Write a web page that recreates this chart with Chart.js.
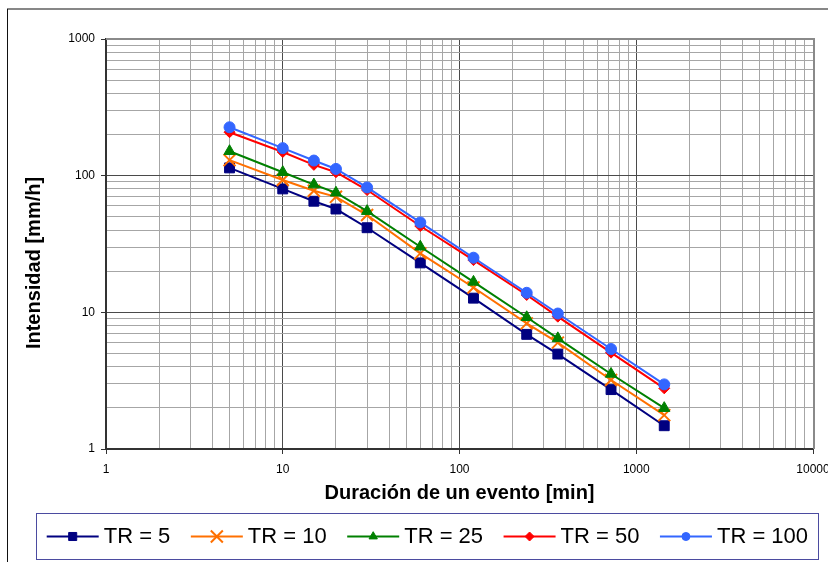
<!DOCTYPE html>
<html><head><meta charset="utf-8">
<script src="https://cdn.jsdelivr.net/npm/chart.js@4.4.1/dist/chart.umd.min.js"></script>
<style>
html,body{margin:0;padding:0;background:#fff;overflow:hidden;width:828px;height:562px;}
#wrap{position:relative;width:828px;height:562px;overflow:hidden;}
canvas{position:absolute;left:0;top:0;}
</style></head><body>
<div id="wrap"><canvas id="c" width="850" height="580" style="width:850px;height:580px"></canvas></div>
<script>
// ---- data ----
const durations = [5, 10, 15, 20, 30, 60, 120, 240, 360, 720, 1440];
const tr5   = [114, 80, 65, 57, 41.6, 23, 12.7, 6.9, 4.95, 2.72, 1.48];
const tr10  = [130, 93, 77.6, 70, 51.5, 27, 15.2, 8.3, 6.0, 3.2, 1.77];
const tr25  = [151, 106, 86, 75, 55, 30.2, 16.7, 9.2, 6.45, 3.54, 1.99];
const tr50  = [208, 149, 120, 106, 78.5, 42.8, 24.1, 13.4, 9.3, 5.07, 2.78];
const tr100 = [226, 159, 129, 112, 82, 45.5, 25.1, 13.9, 9.8, 5.39, 2.97];
const seriesLabels = ['TR = 5', 'TR = 10', 'TR = 25', 'TR = 50', 'TR = 100'];
const xTickLabels = ['1', '10', '100', '1000', '10000'];
const yTickLabels = ['1', '10', '100', '1000'];
const xTitle = 'Duración de un evento [min]';
const yTitle = 'Intensidad [mm/h]';

const FONT = '"Liberation Sans", Arial, Helvetica, sans-serif';
const xDecades = xTickLabels.map(Number);
const yDecades = yTickLabels.map(Number);

function logTicks(min, max) {
  const t = [];
  for (let k = Math.round(Math.log10(min)); k < Math.round(Math.log10(max)); k++) {
    const p = Math.pow(10, k);
    for (let d = 1; d < 10; d++) t.push({ value: d * p, major: d === 1 });
  }
  t.push({ value: max, major: true });
  return t;
}
function isDecade(v) {
  const l = Math.log10(v);
  return Math.abs(l - Math.round(l)) < 1e-9;
}
const pts = vals => durations.map((d, i) => ({ x: d, y: vals[i] }));

const styles = [
  { color: '#000080', pointStyle: 'rect', radius: 7, legendRadius: 5.7, bw: 1 },
  { color: '#ff7000', pointStyle: 'crossRot', radius: 8.5, legendRadius: 8.5, bw: 2 },
  { color: '#008000', pointStyle: 'triangle', radius: 6.5, legendRadius: 4.8, bw: 1 },
  { color: '#ff0000', pointStyle: 'rectRot', radius: 5.5, legendRadius: 4.5, bw: 1 },
  { color: '#3366ff', pointStyle: 'circle', radius: 5.5, legendRadius: 4, bw: 1 }
];
const seriesValues = [tr5, tr10, tr25, tr50, tr100];

const datasets = seriesValues.map((vals, i) => ({
  label: seriesLabels[i],
  data: pts(vals),
  borderColor: styles[i].color,
  backgroundColor: styles[i].color,
  pointBackgroundColor: styles[i].color,
  pointBorderColor: styles[i].color,
  pointBorderWidth: styles[i].bw,
  pointStyle: styles[i].pointStyle,
  pointRadius: styles[i].radius,
  legendRadius: styles[i].legendRadius,
  borderWidth: 2,
  tension: 0,
  fill: false,
  order: seriesValues.length - i
}));

const gridColor = ctx => (ctx.tick && isDecade(ctx.tick.value)) ? '#4a4a4a' : '#a6a6a6';
const tickColor = ctx => (ctx.tick && isDecade(ctx.tick.value)) ? '#333' : 'rgba(0,0,0,0)';

const decor = {
  id: 'decor',
  beforeDraw(chart) {
    const ctx = chart.ctx;
    ctx.save();
    ctx.fillStyle = '#fff';
    ctx.fillRect(0, 0, chart.width, chart.height);
    ctx.strokeStyle = '#111';
    ctx.lineWidth = 1;
    ctx.strokeRect(7.5, 9, 900, 900);
    ctx.restore();
  },
  afterDraw(chart) {
    const ctx = chart.ctx, a = chart.chartArea;
    ctx.save();
    ctx.strokeStyle = '#8a8a8a';
    ctx.lineWidth = 2;
    ctx.beginPath();
    ctx.moveTo(a.left, a.top);
    ctx.lineTo(a.right + 1, a.top);
    ctx.lineTo(a.right + 1, a.bottom);
    ctx.stroke();
    ctx.restore();

    // y axis title
    ctx.save();
    ctx.translate(34, 263);
    ctx.rotate(-Math.PI / 2);
    ctx.font = 'bold 20px ' + FONT;
    ctx.fillStyle = '#000';
    ctx.textAlign = 'center';
    ctx.textBaseline = 'middle';
    ctx.fillText(yTitle, 0, 0);
    ctx.restore();

    // legend
    ctx.save();
    ctx.strokeStyle = '#4b4ba0';
    ctx.lineWidth = 1;
    ctx.strokeRect(36.5, 513.5, 782, 46);
    ctx.font = '22px ' + FONT;
    ctx.textBaseline = 'middle';
    ctx.textAlign = 'left';
    let x = 46.7;
    const y = 536.5;
    chart.data.datasets.forEach(ds => {
      ctx.strokeStyle = ds.borderColor;
      ctx.lineWidth = 2;
      ctx.beginPath();
      ctx.moveTo(x, y);
      ctx.lineTo(x + 52, y);
      ctx.stroke();
      ctx.fillStyle = ds.pointBackgroundColor;
      ctx.strokeStyle = ds.pointBorderColor;
      ctx.lineWidth = ds.pointBorderWidth;
      Chart.helpers.drawPoint(ctx, { pointStyle: ds.pointStyle, radius: ds.legendRadius, borderWidth: ds.pointBorderWidth, rotation: 0 }, x + 26, y);
      ctx.fillStyle = '#000';
      ctx.fillText(ds.label, x + 57, y + 0.5);
      x += 57 + ctx.measureText(ds.label).width + 20.5;
    });
    ctx.restore();
  }
};

new Chart(document.getElementById('c'), {
  type: 'line',
  data: { datasets },
  plugins: [decor],
  options: {
    responsive: false,
    animation: false,
    devicePixelRatio: 1,
    layout: { padding: { top: 39, right: 37, left: 0, bottom: 0 } },
    plugins: { legend: { display: false }, tooltip: { enabled: false }, title: { display: false } },
    scales: {
      x: {
        type: 'logarithmic',
        min: 1, max: 10000,
        afterBuildTicks: s => { s.ticks = logTicks(1, 10000); },
        afterFit: s => { s.height = 131; },
        ticks: {
          autoSkip: false, maxRotation: 0, minRotation: 0, padding: 8,
          color: '#000', font: { family: FONT, size: 12 },
          callback: v => { const i = xDecades.indexOf(v); return i >= 0 ? xTickLabels[i] : ''; }
        },
        grid: { color: gridColor, lineWidth: 1, drawTicks: true, tickLength: 5, tickColor: tickColor, tickWidth: 1 },
        border: { display: true, color: '#333', width: 2 },
        title: { display: true, text: xTitle, color: '#000', font: { family: FONT, size: 20, weight: 'bold' }, padding: { top: 0, bottom: 75 } }
      },
      y: {
        type: 'logarithmic',
        min: 1, max: 1000,
        afterBuildTicks: s => { s.ticks = logTicks(1, 1000); },
        afterFit: s => { s.width = 106; },
        ticks: {
          autoSkip: false, padding: 6,
          color: '#000', font: { family: FONT, size: 12 },
          callback: v => { const i = yDecades.indexOf(v); return i >= 0 ? yTickLabels[i] : ''; }
        },
        grid: { color: gridColor, lineWidth: 1, drawTicks: true, tickLength: 5, tickColor: tickColor, tickWidth: 1 },
        border: { display: true, color: '#333', width: 2 },
        title: { display: false }
      }
    }
  }
});
</script>
</body></html>
